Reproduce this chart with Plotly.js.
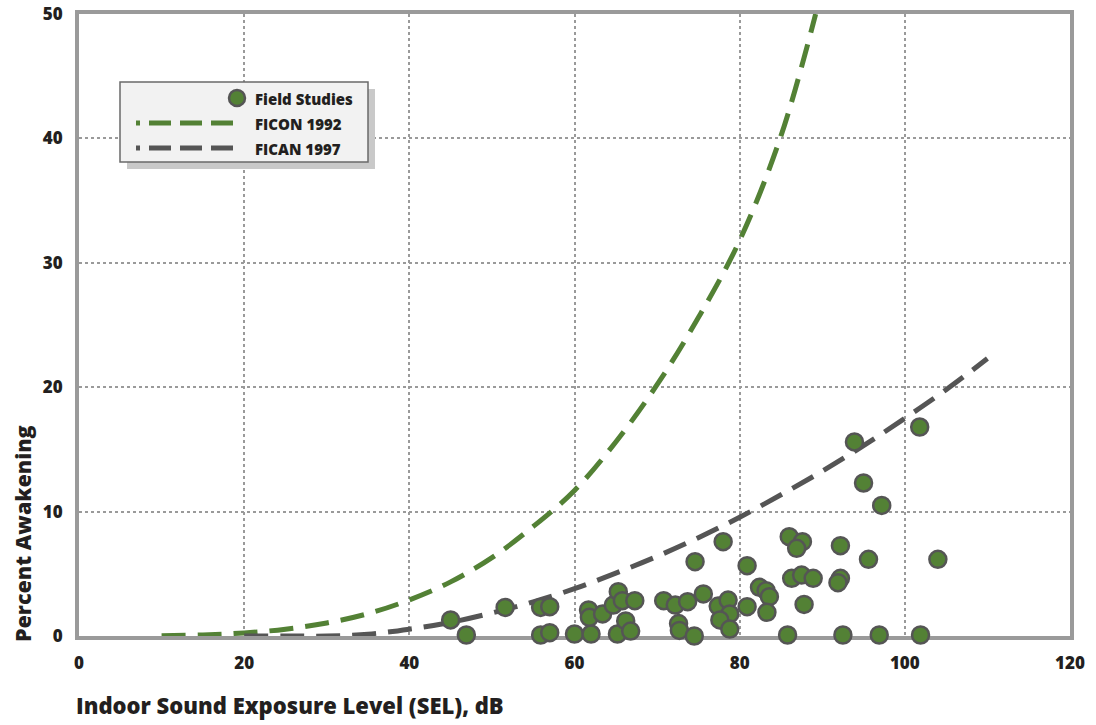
<!DOCTYPE html>
<html>
<head>
<meta charset="utf-8">
<script src="https://cdn.plot.ly/plotly-3.0.1.min.js"></script>
<style>html,body{margin:0;padding:0;background:#fff;}#chart{width:1096px;height:725px;}</style>
</head>
<body>
<div id="chart"></div>
<script>
// ---- Data ----
const fieldX = [45.0, 46.9, 51.6, 55.9, 57.0, 55.9, 57.0, 60.0, 62.0, 61.7, 61.8, 63.4, 64.7, 65.3, 65.8, 67.3, 65.2, 66.2, 66.8,
                70.8, 72.2, 73.7, 72.6, 72.7, 74.5, 74.6, 75.6, 78.0, 77.4, 78.6, 78.8, 77.6, 78.8, 80.9, 80.9, 82.4, 83.2, 83.6, 83.3,
                85.8, 86.0, 87.6, 86.9, 86.3, 87.5, 88.9, 87.8, 92.2, 92.2, 91.9, 92.5, 93.9, 95.0, 95.6, 97.2, 96.9, 101.8, 101.9, 104.0];
const fieldY = [1.29, 0.08, 2.30, 2.30, 2.36, 0.08, 0.27, 0.16, 0.16, 2.09, 1.50, 1.77, 2.49, 3.56, 2.84, 2.84, 0.16, 1.21, 0.40,
                2.84, 2.49, 2.76, 1.0, 0.45, 0.0, 5.97, 3.38, 7.58, 2.41, 2.89, 1.77, 1.29, 0.56, 5.65, 2.36, 3.91, 3.64, 3.16, 1.90,
                0.08, 7.98, 7.58, 7.05, 4.64, 4.90, 4.64, 2.54, 7.26, 4.64, 4.29, 0.08, 15.6, 12.3, 6.16, 10.5, 0.08, 16.8, 0.08, 6.16];

const ficonX = [10, 15, 20, 25, 30, 35, 40, 45, 50, 55, 60, 65, 70, 75, 80, 85, 89.2];
const ficonY = [0.02, 0.09, 0.25, 0.55, 1.05, 1.8, 2.9, 4.35, 6.3, 8.8, 11.7, 15.6, 20.2, 25.6, 31.8, 40.2, 50];

const ficanX = [20, 25, 30, 35, 40, 45, 50, 55, 60, 65, 70, 75, 80, 85, 90, 95, 100, 105, 110];
const ficanY = [0, 0, 0, 0.15, 0.55, 1.1, 1.85, 2.75, 3.8, 5.05, 6.4, 7.9, 9.55, 11.35, 13.25, 15.3, 17.5, 19.8, 22.3];

const xTicks = [0, 20, 40, 60, 80, 100, 120];
const yTicks = [0, 10, 20, 30, 40, 50];

const seriesNames = ['Field Studies', 'FICON 1992', 'FICAN 1997'];

// ---- Styles ----
const GREEN = '#538135';
const DARKGREY = '#555555';
const TEXT = '#231f20';
const FONT = '"Open Sans", "Noto Sans", sans-serif';
const DASH = '24px,12px';

const traces = [
  {x: ficonX, y: ficonY, mode: 'lines', name: seriesNames[1], showlegend: false,
   line: {color: GREEN, width: 5, dash: DASH, shape: 'spline', smoothing: 1}},
  {x: ficanX, y: ficanY, mode: 'lines', name: seriesNames[2], showlegend: false,
   line: {color: DARKGREY, width: 5, dash: DASH, shape: 'spline', smoothing: 1}},
  {x: fieldX, y: fieldY, mode: 'markers', name: seriesNames[0], showlegend: false, cliponaxis: false,
   marker: {size: 17, color: GREEN, line: {color: DARKGREY, width: 2.5}}}
];

// plot area in pixels: left 79, right 1070, top 14, bottom 636
const L = 79, R = 1070, T = 14, B = 636;
const px = v => (v - L) / (R - L);
const py = v => (B - v) / (B - T);

const LEGDASH = '4px,9px,22px,9px,22px,9px,22px,9px';
const shapes = [
  {type: 'rect', xref: 'paper', yref: 'paper', x0: px(127), x1: px(375), y0: py(89), y1: py(169),
   fillcolor: '#c9c9c9', line: {width: 0}, layer: 'above'},
  {type: 'rect', xref: 'paper', yref: 'paper', x0: px(120), x1: px(368), y0: py(82), y1: py(162),
   fillcolor: '#f2f2f2', line: {color: '#6a6a6a', width: 1.5}, layer: 'above'},
  {type: 'circle', xref: 'paper', yref: 'paper', x0: px(229), x1: px(245), y0: py(90), y1: py(106),
   fillcolor: GREEN, line: {color: DARKGREY, width: 2.5}, layer: 'above'},
  {type: 'line', xref: 'paper', yref: 'paper', x0: px(136), x1: px(240), y0: py(123), y1: py(123),
   line: {color: GREEN, width: 5, dash: LEGDASH}, layer: 'above'},
  {type: 'line', xref: 'paper', yref: 'paper', x0: px(136), x1: px(240), y0: py(148), y1: py(148),
   line: {color: DARKGREY, width: 5, dash: LEGDASH}, layer: 'above'}
];

const annFont = {family: FONT, size: 15, color: TEXT, weight: 800};
const annotations = [
  {xref: 'paper', yref: 'paper', x: px(253), y: py(99), text: seriesNames[0], showarrow: false,
   xanchor: 'left', yanchor: 'middle', font: annFont},
  {xref: 'paper', yref: 'paper', x: px(253), y: py(124), text: seriesNames[1], showarrow: false,
   xanchor: 'left', yanchor: 'middle', font: annFont},
  {xref: 'paper', yref: 'paper', x: px(253), y: py(149), text: seriesNames[2], showarrow: false,
   xanchor: 'left', yanchor: 'middle', font: annFont},
  {xref: 'paper', yref: 'paper', x: px(74), y: py(705), text: 'Indoor Sound Exposure Level (SEL), dB',
   showarrow: false, xanchor: 'left', yanchor: 'middle', font: {family: FONT, size: 22, color: TEXT, weight: 800}},
  {xref: 'paper', yref: 'paper', x: px(22), y: py(534), text: 'Percent Awakening', textangle: -90,
   showarrow: false, xanchor: 'center', yanchor: 'middle', font: {family: FONT, size: 21.5, color: TEXT, weight: 800}}
];

const axisCommon = {
  showgrid: true, gridcolor: '#9a9a9a', gridwidth: 2, griddash: 'dot',
  showline: true, linecolor: '#9a9a9a', linewidth: 4, mirror: true,
  zeroline: false, ticks: '', layer: 'below traces',
  tickfont: {family: FONT, size: 17, color: TEXT, weight: 800},
  fixedrange: true
};

const layout = {
  width: 1096, height: 725,
  margin: {l: L, r: 1096 - R, t: T, b: 725 - B, pad: 0},
  paper_bgcolor: '#ffffff', plot_bgcolor: '#ffffff',
  showlegend: false,
  xaxis: Object.assign({}, axisCommon, {range: [0, 120], tickvals: xTicks, ticktext: xTicks.map(String), ticklabelstandoff: 9}),
  yaxis: Object.assign({}, axisCommon, {range: [0, 50], tickvals: yTicks, ticktext: yTicks.map(String), ticklabelstandoff: 9}),
  shapes: shapes,
  annotations: annotations
};

Plotly.newPlot('chart', traces, layout, {displayModeBar: false, staticPlot: true});
</script>
</body>
</html>
